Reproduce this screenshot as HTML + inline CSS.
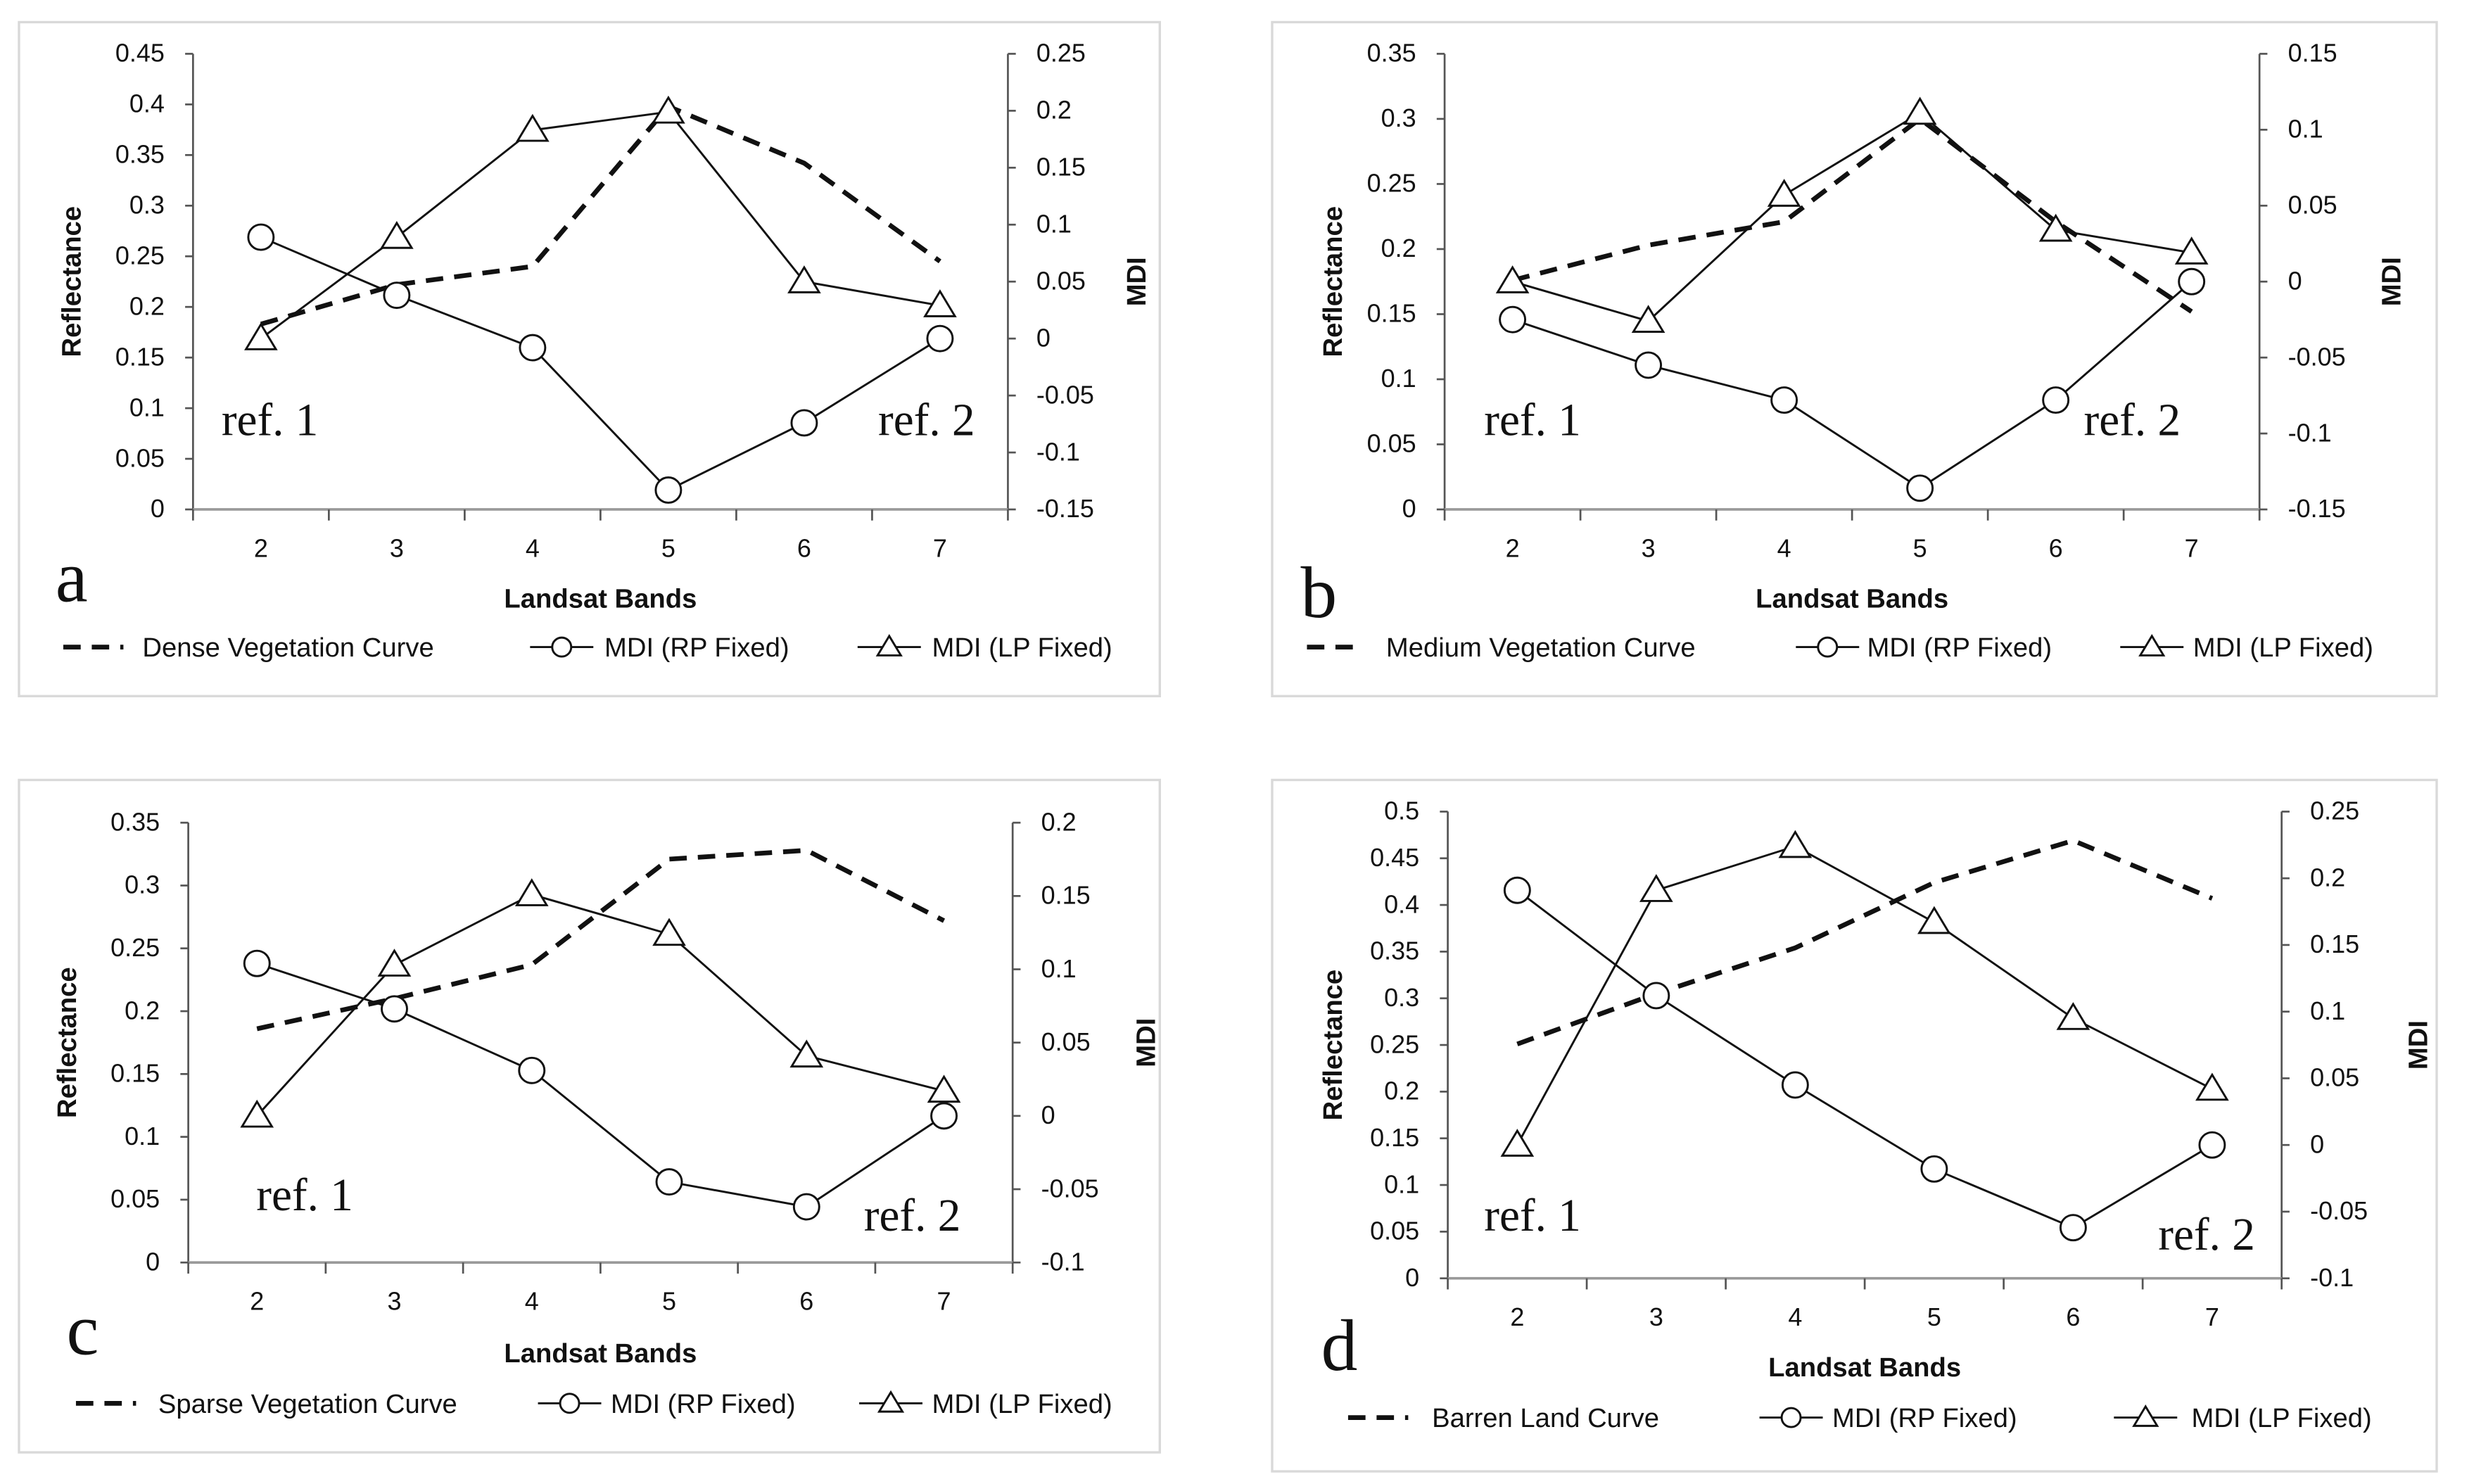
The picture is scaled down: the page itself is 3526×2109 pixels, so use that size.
<!DOCTYPE html>
<html><head><meta charset="utf-8"><style>
html,body{margin:0;padding:0;background:#fff;}
svg{display:block;}
text{font-family:"Liberation Sans",sans-serif;fill:#111;}
.serif{font-family:"Liberation Serif",serif;}
</style></head><body>
<svg id="chart" width="3526" height="2109" viewBox="0 0 1568 938" preserveAspectRatio="none" xmlns="http://www.w3.org/2000/svg"></svg>
<script>
const categories = ["2","3","4","5","6","7"];
// Panel a
const aReflect = [0.183, 0.222, 0.240, 0.398, 0.342, 0.245];
const aRP = [0.089, 0.038, -0.008, -0.133, -0.074, 0.000];
const aLP = [0.000, 0.089, 0.183, 0.199, 0.050, 0.029];
const aLeftTicks = ["0","0.05","0.1","0.15","0.2","0.25","0.3","0.35","0.4","0.45"];
const aRightTicks = ["-0.15","-0.1","-0.05","0","0.05","0.1","0.15","0.2","0.25"];
// Panel b
const bReflect = [0.176, 0.203, 0.221, 0.300, 0.221, 0.152];
const bRP = [-0.025, -0.055, -0.078, -0.136, -0.078, 0.000];
const bLP = [0.000, -0.026, 0.057, 0.111, 0.034, 0.019];
const bLeftTicks = ["0","0.05","0.1","0.15","0.2","0.25","0.3","0.35"];
const bRightTicks = ["-0.15","-0.1","-0.05","0","0.05","0.1","0.15"];
// Panel c
const cReflect = [0.186, 0.210, 0.237, 0.321, 0.328, 0.272];
const cRP = [0.104, 0.073, 0.031, -0.045, -0.062, 0.000];
const cLP = [0.000, 0.103, 0.151, 0.124, 0.041, 0.017];
const cLeftTicks = ["0","0.05","0.1","0.15","0.2","0.25","0.3","0.35"];
const cRightTicks = ["-0.1","-0.05","0","0.05","0.1","0.15","0.2"];
// Panel d
const dReflect = [0.251, 0.305, 0.354, 0.424, 0.469, 0.407];
const dRP = [0.191, 0.112, 0.045, -0.018, -0.062, 0.000];
const dLP = [0.000, 0.191, 0.224, 0.167, 0.095, 0.042];
const dLeftTicks = ["0","0.05","0.1","0.15","0.2","0.25","0.3","0.35","0.4","0.45","0.5"];
const dRightTicks = ["-0.1","-0.05","0","0.05","0.1","0.15","0.2","0.25"];

const NS = "http://www.w3.org/2000/svg";
const svg = document.getElementById('chart');
function mk(tag, attrs, parent){const e=document.createElementNS(NS,tag);for(const k in attrs)e.setAttribute(k,attrs[k]);(parent||svg).appendChild(e);return e;}

const panels = [
 {id:'a',box:[12,14,733,440],L:122,R:637,T:34,B:322,lmin:0,lmax:0.45,rmin:-0.15,rmax:0.25,refl:aReflect,rp:aRP,lp:aLP,lt:aLeftTicks,rt:aRightTicks,
  letter:[35,380],ref1:[140,275],ref2:[555,275],ref1t:"ref. 1",ref2t:"ref. 2",xt:378,leg:409,
  legs:[[40,78,90],[335,375,382],[542,582,589]],name:"Dense Vegetation Curve",yl:45,yr:718},
 {id:'b',box:[804,14,1540,440],L:913,R:1428,T:34,B:322,lmin:0,lmax:0.35,rmin:-0.15,rmax:0.15,refl:bReflect,rp:bRP,lp:bLP,lt:bLeftTicks,rt:bRightTicks,
  letter:[822,390],ref1:[938,275],ref2:[1317,275],ref1t:"ref.  1",ref2t:"ref.  2",xt:378,leg:409,
  legs:[[826,862,876],[1135,1175,1180],[1340,1380,1386]],name:"Medium Vegetation Curve",yl:842,yr:1511},
 {id:'c',box:[12,493,733,918],L:119,R:640,T:520,B:798,lmin:0,lmax:0.35,rmin:-0.1,rmax:0.2,refl:cReflect,rp:cRP,lp:cLP,lt:cLeftTicks,rt:cRightTicks,
  letter:[42,856],ref1:[162,765],ref2:[546,778],ref1t:"ref. 1",ref2t:"ref. 2",xt:855,leg:887,
  legs:[[48,86,100],[340,380,386],[543,583,589]],name:"Sparse Vegetation Curve",yl:42,yr:724},
 {id:'d',box:[804,493,1540,930],L:915,R:1442,T:513,B:808,lmin:0,lmax:0.5,rmin:-0.1,rmax:0.25,refl:dReflect,rp:dRP,lp:dLP,lt:dLeftTicks,rt:dRightTicks,
  letter:[835,866],ref1:[938,778],ref2:[1364,790],ref1t:"ref. 1",ref2t:"ref. 2",xt:864,leg:896,
  legs:[[852,890,905],[1112,1152,1158],[1336,1376,1385]],name:"Barren Land Curve",yl:842,yr:1528}
];

function tri(g,x,y,nm,s){s=s||9;const p=mk('polygon',{points:`${x},${y-s} ${x-s*1.05},${y+s*0.75} ${x+s*1.05},${y+s*0.75}`,fill:'#fff',stroke:'#111','stroke-width':1.3},g);
return p;}
function circ(g,x,y,nm,r){const c=mk('circle',{cx:x,cy:y,r:r||8,fill:'#fff',stroke:'#111','stroke-width':1.3},g);
return c;}

panels.forEach(p=>{
  const g=mk('g',{});
  
  
  const bx=mk('rect',{x:p.box[0],y:p.box[1],width:p.box[2]-p.box[0],height:p.box[3]-p.box[1],fill:'#fff',stroke:'#d9d9d9','stroke-width':1.5},g);
  
  
  const n=categories.length, cw=(p.R-p.L)/n;
  const xs=i=>p.L+cw*(i+0.5);
  const yl=v=>p.B-(v-p.lmin)/(p.lmax-p.lmin)*(p.B-p.T);
  const yr=v=>p.B-(v-p.rmin)/(p.rmax-p.rmin)*(p.B-p.T);
  const ax=mk('g',{stroke:'#555','stroke-width':1.2},g);
  
  
  mk('line',{x1:p.L,y1:p.T,x2:p.L,y2:p.B},ax);
  mk('line',{x1:p.R,y1:p.T,x2:p.R,y2:p.B},ax);
  mk('line',{x1:p.L,y1:p.B,x2:p.R,y2:p.B,stroke:'#999','stroke-width':1.6},ax);
  for(let i=0;i<=n;i++){const x=p.L+cw*i;mk('line',{x1:x,y1:p.B,x2:x,y2:p.B+7},ax);}
  p.lt.forEach((t,i)=>{const v=p.lmin+i*(p.lmax-p.lmin)/(p.lt.length-1);const y=yl(v);
    mk('line',{x1:p.L-5,y1:y,x2:p.L,y2:y},ax);
    const tx=mk('text',{x:p.L-18,y:y+5,'text-anchor':'end','font-size':16},g);tx.textContent=t;
    });
  p.rt.forEach((t,i)=>{const v=p.rmin+i*(p.rmax-p.rmin)/(p.rt.length-1);const y=yr(v);
    mk('line',{x1:p.R,y1:y,x2:p.R+5,y2:y},ax);
    const tx=mk('text',{x:p.R+18,y:y+5,'text-anchor':'start','font-size':16},g);tx.textContent=t;
    });
  categories.forEach((c,i)=>{const tx=mk('text',{x:xs(i),y:p.B+30,'text-anchor':'middle','font-size':16},g);tx.textContent=c;
    });
  const xt=mk('text',{x:(p.L+p.R)/2,y:p.xt+6,'text-anchor':'middle','font-size':17,'font-weight':'bold'},g);xt.textContent='Landsat Bands';
  
  const cy=(p.T+p.B)/2;
  const yt=mk('text',{x:p.yl,y:cy,'text-anchor':'middle','font-size':17,'font-weight':'bold',transform:`rotate(-90 ${p.yl} ${cy})`,dy:6},g);yt.textContent='Reflectance';
  
  const y2=mk('text',{x:p.yr,y:cy,'text-anchor':'middle','font-size':17,'font-weight':'bold',transform:`rotate(-90 ${p.yr} ${cy})`,dy:6},g);y2.textContent='MDI';
  
  const dl=mk('polyline',{points:p.refl.map((v,i)=>xs(i)+','+yl(v)).join(' '),fill:'none',stroke:'#111','stroke-width':3,'stroke-dasharray':'11 7'},g);
  
  const rl=mk('polyline',{points:p.rp.map((v,i)=>xs(i)+','+yr(v)).join(' '),fill:'none',stroke:'#111','stroke-width':1.3},g);
  
  const ll=mk('polyline',{points:p.lp.map((v,i)=>xs(i)+','+yr(v)).join(' '),fill:'none',stroke:'#111','stroke-width':1.3},g);
  
  p.rp.forEach((v,i)=>circ(g,xs(i),yr(v),'mdi-rp-point'));
  p.lp.forEach((v,i)=>tri(g,xs(i),yr(v),'mdi-lp-point'));
  const r1=mk('text',{x:p.ref1[0],y:p.ref1[1],'font-size':29,class:'serif'},g);r1.textContent=p.ref1t;
  
  const r2=mk('text',{x:p.ref2[0],y:p.ref2[1],'font-size':29,class:'serif'},g);r2.textContent=p.ref2t;
  
  const lt=mk('text',{x:p.letter[0],y:p.letter[1],'font-size':46,class:'serif'},g);lt.textContent=p.id;
  
  const lg=mk('g',{},g);
  
  const ly=p.leg;
  mk('line',{x1:p.legs[0][0],y1:ly,x2:p.legs[0][1],y2:ly,stroke:'#111','stroke-width':3,'stroke-dasharray':'11 7'},lg);
  const t0=mk('text',{x:p.legs[0][2],y:ly+6,'font-size':17},lg);t0.textContent=p.name;
  
  mk('line',{x1:p.legs[1][0],y1:ly,x2:p.legs[1][1],y2:ly,stroke:'#111','stroke-width':1.3},lg);
  circ(lg,(p.legs[1][0]+p.legs[1][1])/2,ly,'legend-marker-circle',6);
  const t1=mk('text',{x:p.legs[1][2],y:ly+6,'font-size':17},lg);t1.textContent='MDI (RP Fixed)';
  
  mk('line',{x1:p.legs[2][0],y1:ly,x2:p.legs[2][1],y2:ly,stroke:'#111','stroke-width':1.3},lg);
  tri(lg,(p.legs[2][0]+p.legs[2][1])/2,ly,'legend-marker-triangle',7);
  const t2=mk('text',{x:p.legs[2][2],y:ly+6,'font-size':17},lg);t2.textContent='MDI (LP Fixed)';
  
});
</script>
</body></html>
